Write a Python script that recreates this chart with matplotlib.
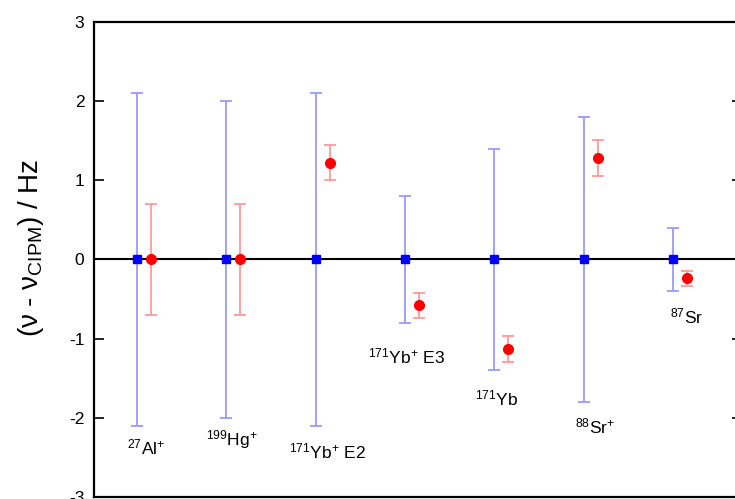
import numpy as np
import matplotlib.pyplot as plt

plt.rcParams['font.family'] = ['Liberation Sans', 'DejaVu Sans']
plt.rcParams['axes.unicode_minus'] = False
plt.rcParams['mathtext.fontset'] = 'custom'
plt.rcParams['mathtext.rm'] = 'Liberation Sans'
plt.rcParams['mathtext.it'] = 'Liberation Sans'
plt.rcParams['mathtext.default'] = 'regular'

# clocks
labels = [r'$^{27}$Al$^{+}$', r'$^{199}$Hg$^{+}$', r'$^{171}$Yb$^{+}$ E2',
          r'$^{171}$Yb$^{+}$ E3', r'$^{171}$Yb', r'$^{88}$Sr$^{+}$', r'$^{87}$Sr']
pos = np.arange(1, 8)

# CIPM recommended values (zero) and their uncertainty
cipm_val = [0, 0, 0, 0, 0, 0, 0]
cipm_err = [2.1, 2.0, 2.1, 0.8, 1.4, 1.8, 0.4]

# this work
meas_val = [0.0, 0.0, 1.22, -0.58, -1.13, 1.28, -0.24]
meas_err = [0.7, 0.7, 0.22, 0.16, 0.16, 0.23, 0.09]

# label positions (x, y) in data coords
lab_x = [1.10, 2.06, 3.13, 4.02, 5.03, 6.13, 7.15]
lab_y = [-2.37, -2.28, -2.43, -1.23, -1.75, -2.11, -0.72]

fig = plt.figure(figsize=(7.35, 4.99), dpi=100)
ax = fig.add_axes([0.1279, 0.004, 0.8816, 0.952])

ax.axhline(0, color='black', lw=1.5, zorder=1)

ax.errorbar(pos, cipm_val, yerr=cipm_err, fmt='s', color='#0000ff', ms=6,
            ecolor='#9999ff', elinewidth=1.3, capsize=4.5, capthick=1.3, zorder=3)
ax.errorbar(pos + 0.157, meas_val, yerr=meas_err, fmt='o', color='#ff0000', ms=7,
            ecolor='#ff9999', elinewidth=1.3, capsize=4.5, capthick=1.3, zorder=3)

for x, y, t in zip(lab_x, lab_y, labels):
    ax.text(x, y, t, ha='center', va='center', fontsize=12.5)

ax.set_xlim(0.519, 7.77)
ax.set_ylim(-3, 3)
ax.set_yticks([-3, -2, -1, 0, 1, 2, 3])
ax.set_xticks([])
ax.tick_params(axis='y', direction='in', length=7, width=1.2, labelsize=12.5,
               right=True, pad=7)
for s in ax.spines.values():
    s.set_linewidth(1.6)

ax.set_ylabel('(ν - ν$_{CIPM}$) / Hz', fontsize=20)
ax.yaxis.set_label_coords(-0.074, 0.524)

fig.savefig('out.png', dpi=100)
